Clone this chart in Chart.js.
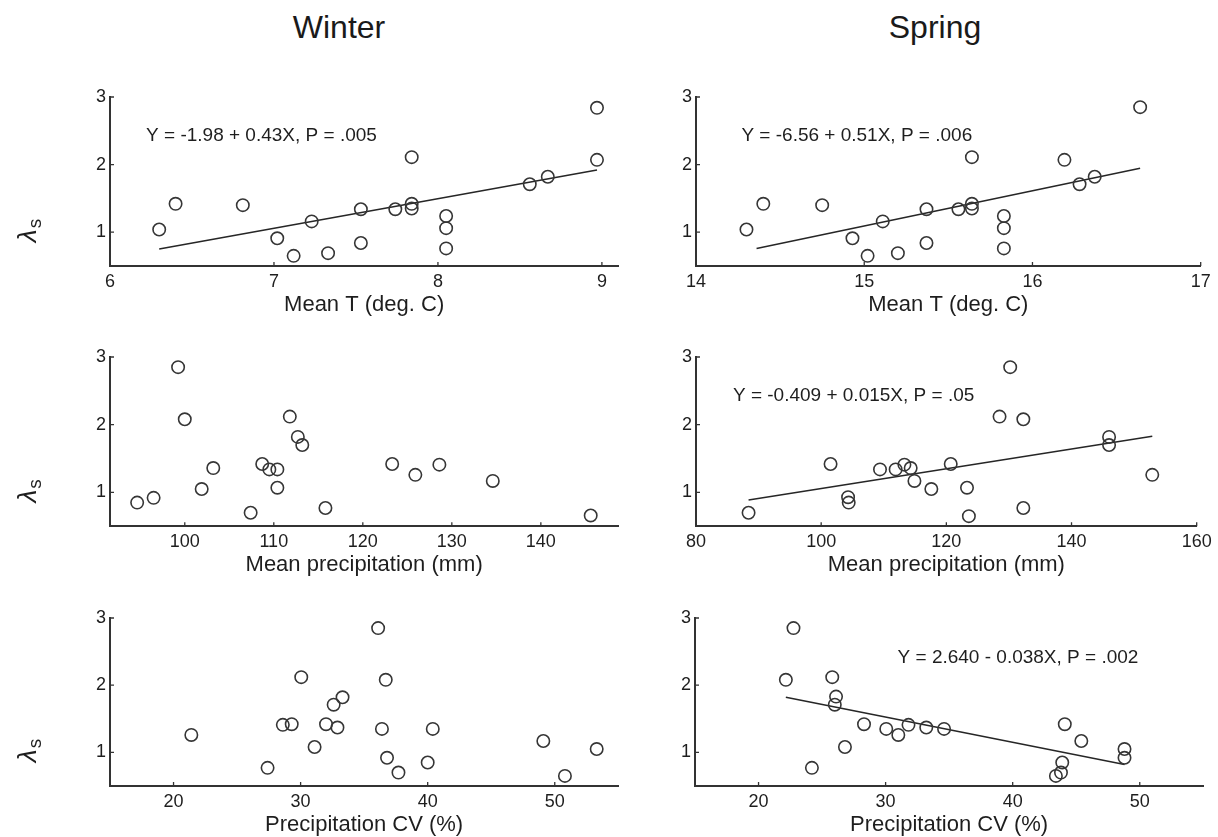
<!DOCTYPE html>
<html><head><meta charset="utf-8">
<script src="https://cdn.jsdelivr.net/npm/chart.js@4/dist/chart.umd.min.js"></script>
<style>
html,body{margin:0;padding:0;background:#fff;overflow:hidden;width:1218px;height:837px;}
.box{position:absolute;}
.head{position:absolute;font-family:"Liberation Sans",Arial,sans-serif;font-size:32px;color:#1a1a1a;transform:translate(-50%,-50%);white-space:nowrap;}
</style></head><body>
<div class="head" style="left:339px;top:27px">Winter</div>
<div class="head" style="left:935px;top:27px">Spring</div>
<script>
// ---------- data ----------
const yTicks = [1, 2, 3];

const winterTempTicks = [6, 7, 8, 9];
const winterTempX = [6.30,6.40,6.81,7.02,7.12,7.23,7.33,7.53,7.53,7.74,7.84,7.84,7.84,8.05,8.05,8.05,8.56,8.67,8.97,8.97];
const winterTempY = [1.04,1.42,1.40,0.91,0.65,1.16,0.69,1.34,0.84,1.34,2.11,1.42,1.35,1.24,1.06,0.76,1.71,1.82,2.84,2.07];
const winterTempFitX = [6.30, 8.97];
const winterTempFitY = [0.75, 1.92];

const springTempTicks = [14, 15, 16, 17];
const springTempX = [14.30,14.40,14.75,14.93,15.02,15.11,15.20,15.37,15.37,15.56,15.64,15.64,15.64,15.83,15.83,15.83,16.19,16.28,16.37,16.64];
const springTempY = [1.04,1.42,1.40,0.91,0.65,1.16,0.69,1.34,0.84,1.34,2.11,1.42,1.35,1.24,1.06,0.76,2.07,1.71,1.82,2.85];
const springTempFitX = [14.36, 16.64];
const springTempFitY = [0.76, 1.945];

const winterPrecTicks = [100, 110, 120, 130, 140];
const winterPrecX = [94.65,96.5,99.25,100.0,101.9,103.2,107.4,108.7,109.5,110.4,110.4,111.8,112.7,113.2,115.8,123.3,125.9,128.6,134.6,145.6];
const winterPrecY = [0.85,0.92,2.85,2.08,1.05,1.36,0.70,1.42,1.34,1.34,1.07,2.12,1.82,1.70,0.77,1.42,1.26,1.41,1.17,0.66];

const springPrecTicks = [80, 100, 120, 140, 160];
const springPrecX = [88.4,101.5,104.3,104.4,109.4,111.9,113.3,114.3,114.9,117.6,120.7,123.3,123.6,128.5,130.2,132.3,132.3,146.0,146.0,152.9];
const springPrecY = [0.70,1.42,0.93,0.85,1.34,1.34,1.41,1.36,1.17,1.05,1.42,1.07,0.65,2.12,2.85,2.08,0.77,1.82,1.70,1.26];
const springPrecFitX = [88.4, 152.9];
const springPrecFitY = [0.89, 1.83];

const winterCvTicks = [20, 30, 40, 50];
const winterCvX = [21.4,27.4,28.6,29.3,30.05,31.1,32.0,32.6,32.9,33.3,36.1,36.4,36.7,36.8,37.7,40.0,40.4,49.1,50.8,53.3];
const winterCvY = [1.26,0.77,1.41,1.42,2.12,1.08,1.42,1.71,1.37,1.82,2.85,1.35,2.08,0.92,0.70,0.85,1.35,1.17,0.65,1.05];

const springCvTicks = [20, 30, 40, 50];
const springCvX = [22.15,22.75,24.2,25.8,26.1,26.0,26.8,28.3,30.05,31.0,31.8,33.2,34.6,43.4,43.8,43.9,44.1,45.4,48.8,48.8];
const springCvY = [2.08,2.85,0.77,2.12,1.83,1.71,1.08,1.42,1.35,1.26,1.41,1.37,1.35,0.65,0.70,0.85,1.42,1.17,1.05,0.92];
const springCvFitX = [22.15, 48.8];
const springCvFitY = [1.82, 0.82];

// ---------- panels ----------
const FONT = '"Liberation Sans", Arial, sans-serif';
const TXT = '#1e1e1e';
const AX = '#333333';
Chart.defaults.font.family = FONT;
Chart.defaults.color = TXT;

const panels = [
  {x:winterTempX, y:winterTempY, fx:winterTempFitX, fy:winterTempFitY, ticks:winterTempTicks, min:6, max:9.1,
   title:'Mean T (deg. C)', eq:'Y = -1.98 + 0.43X, P = .005', eqAt:[6.22, 2.43],
   boxL:0, boxW:640, areaL:110, areaR:618.3, areaT:96.7, areaB:265.7, lambda:true},
  {x:springTempX, y:springTempY, fx:springTempFitX, fy:springTempFitY, ticks:springTempTicks, min:14, max:17,
   title:'Mean T (deg. C)', eq:'Y = -6.56 + 0.51X, P = .006', eqAt:[14.27, 2.43],
   boxL:620, boxW:598, areaL:696, areaR:1200.7, areaT:96.7, areaB:265.7, lambda:false},
  {x:winterPrecX, y:winterPrecY, fx:null, fy:null, ticks:winterPrecTicks, min:91.6, max:148.7,
   title:'Mean precipitation (mm)', eq:null,
   boxL:0, boxW:640, areaL:110, areaR:618.3, areaT:356.7, areaB:526, lambda:true},
  {x:springPrecX, y:springPrecY, fx:springPrecFitX, fy:springPrecFitY, ticks:springPrecTicks, min:80, max:160,
   title:'Mean precipitation (mm)', eq:'Y = -0.409 + 0.015X, P = .05', eqAt:[85.9, 2.43],
   boxL:620, boxW:598, areaL:696, areaR:1196.7, areaT:356.7, areaB:526, lambda:false},
  {x:winterCvX, y:winterCvY, fx:null, fy:null, ticks:winterCvTicks, min:15, max:55,
   title:'Precipitation CV (%)', eq:null,
   boxL:0, boxW:640, areaL:110, areaR:618.3, areaT:617.7, areaB:785.7, lambda:true},
  {x:springCvX, y:springCvY, fx:springCvFitX, fy:springCvFitY, ticks:springCvTicks, min:15, max:55,
   title:'Precipitation CV (%)', eq:'Y = 2.640 - 0.038X, P = .002', eqAt:[30.94, 2.41],
   boxL:620, boxW:598, areaL:695, areaR:1203.3, areaT:617.7, areaB:785.7, lambda:false}
];

const X_AXIS_H = 64.3;
const PAD_T = 40;

const decoPlugin = {
  id: 'deco',
  afterDraw(chart) {
    const o = chart.options.plugins.deco;
    const ctx = chart.ctx;
    const ca = chart.chartArea;
    const xs = chart.scales.x, ys = chart.scales.y;
    ctx.save();
    // inward tick marks
    ctx.strokeStyle = AX;
    ctx.lineWidth = 1.3;
    ctx.beginPath();
    o.yTicks.forEach(v => {
      const py = ys.getPixelForValue(v);
      ctx.moveTo(ca.left, py); ctx.lineTo(ca.left + 4, py);
    });
    o.xTicks.forEach(v => {
      const px = xs.getPixelForValue(v);
      ctx.moveTo(px, ca.bottom); ctx.lineTo(px, ca.bottom - 4);
    });
    ctx.stroke();
    // equation
    if (o.eq) {
      ctx.fillStyle = TXT;
      ctx.font = '19px ' + FONT;
      ctx.textAlign = 'left';
      ctx.textBaseline = 'middle';
      ctx.fillText(o.eq, xs.getPixelForValue(o.eqAt[0]), ys.getPixelForValue(o.eqAt[1]));
    }
    // lambda_s axis label
    if (o.lambda) {
      ctx.translate(28, ca.bottom - 35);
      ctx.rotate(-Math.PI / 2);
      ctx.fillStyle = TXT;
      ctx.textBaseline = 'alphabetic';
      ctx.textAlign = 'left';
      ctx.font = 'italic 26px ' + FONT;
      const w1 = ctx.measureText('λ').width;
      ctx.font = '19px ' + FONT;
      const w2 = ctx.measureText('s').width;
      const start = -(w1 + w2) / 2;
      ctx.font = 'italic 26px ' + FONT;
      ctx.fillText('λ', start, 8);
      ctx.font = '19px ' + FONT;
      ctx.fillText('s', start + w1 + 1, 13);
    }
    ctx.restore();
  }
};

panels.forEach((p, i) => {
  const top = p.areaT - PAD_T;
  const height = p.areaB + X_AXIS_H - top;
  const div = document.createElement('div');
  div.className = 'box';
  div.style.left = p.boxL + 'px';
  div.style.top = top + 'px';
  div.style.width = p.boxW + 'px';
  div.style.height = height + 'px';
  const cv = document.createElement('canvas');
  div.appendChild(cv);
  document.body.appendChild(div);

  const datasets = [{
    type: 'scatter',
    data: p.x.map((v, k) => ({x: v, y: p.y[k]})),
    pointStyle: 'circle',
    pointRadius: 6.2,
    pointBorderWidth: 1.6,
    borderColor: '#363636',
    backgroundColor: 'rgba(0,0,0,0)',
    pointBackgroundColor: 'rgba(0,0,0,0)',
    pointBorderColor: '#363636'
  }];
  if (p.fx) {
    datasets.push({
      type: 'line',
      data: p.fx.map((v, k) => ({x: v, y: p.fy[k]})),
      borderColor: '#262626',
      borderWidth: 1.5,
      pointRadius: 0,
      fill: false,
      tension: 0
    });
  }

  const yW = p.areaL - p.boxL;
  new Chart(cv, {
    data: {datasets},
    plugins: [decoPlugin],
    options: {
      responsive: true,
      maintainAspectRatio: false,
      animation: false,
      events: [],
      layout: {padding: {left: 0, top: PAD_T, bottom: 0, right: p.boxL + p.boxW - p.areaR}},
      plugins: {
        legend: {display: false},
        tooltip: {enabled: false},
        deco: {yTicks: yTicks, xTicks: p.ticks, eq: p.eq, eqAt: p.eqAt, lambda: p.lambda}
      },
      scales: {
        x: {
          type: 'linear', position: 'bottom', min: p.min, max: p.max,
          afterBuildTicks: s => { s.ticks = p.ticks.map(v => ({value: v})); },
          afterFit: s => { s.height = X_AXIS_H; },
          grid: {display: false, drawTicks: false},
          border: {display: true, color: AX, width: 2},
          ticks: {autoSkip: false, maxRotation: 0, padding: 5, color: TXT, font: {size: 18},
                   callback: v => String(v)},
          title: {display: true, text: p.title, color: TXT, font: {size: 22}, padding: {top: 0, bottom: 12.5}}
        },
        y: {
          type: 'linear', position: 'left', min: 0.5, max: 3,
          afterBuildTicks: s => { s.ticks = yTicks.map(v => ({value: v})); },
          afterFit: s => { s.width = yW; },
          grid: {display: false, drawTicks: false},
          border: {display: true, color: AX, width: 2},
          ticks: {autoSkip: false, padding: 4, color: TXT, font: {size: 18},
                  callback: v => String(v)}
        }
      }
    }
  });
});
</script>
</body></html>
